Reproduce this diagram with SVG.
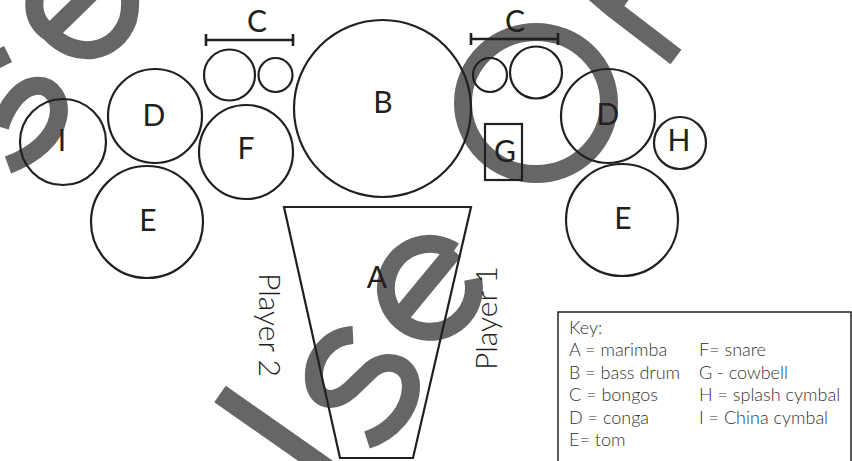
<svg xmlns="http://www.w3.org/2000/svg" width="852" height="461" viewBox="0 0 852 461">
<style>
.wm{fill:none;stroke:#666;stroke-width:18}
.ln{fill:none;stroke:#231f20;stroke-width:2.2}
.lbl{font-family:Lato,"Liberation Sans",sans-serif;font-weight:400;font-size:30px;fill:#231f20;text-anchor:middle}
.ply{font-family:Lato,"Liberation Sans",sans-serif;font-weight:300;font-size:30px;fill:#231f20}
.key{font-family:Lato,"Liberation Sans",sans-serif;font-weight:300;font-size:18px;fill:#333}
</style>
<rect width="852" height="461" fill="#fff"/>
<g id="watermark">
<path class="wm" d="M 50,33 L 92,-8 M 50,33 C 30,20 30,-5 45,-20 M 50,33 C 75,60 115,55 128,20 C 132,5 130,-10 125,-20"/>
<path class="wm" d="M 0,127 C 5,110 18,88 35,86 C 52,84 62,100 58,118 C 54,138 35,155 8,165"/>
<path class="wm" d="M -4,50 L 4,66"/>
<ellipse class="wm" cx="536" cy="103" rx="73" ry="71"/>
<path class="wm" d="M 676,57 L 612,8 L 585,-15 M 612,8 L 628,-15"/>
<path class="wm" d="M 454,251 A 44 44 0 1 0 473 279 M 454,251 L 402,314"/>
<path class="wm" d="M 353,335 C 330,336 312,356 314,380 C 316,402 334,404 350,390 L 372,369 C 390,356 411,365 411,386 C 411,410 392,432 367,440"/>
<path class="wm" d="M 220,394 L 340,478" style="stroke-width:20"/>
</g>
<g id="connectors"></g>
<g id="node-I"><circle class="ln" cx="63" cy="142" r="43"/><text class="lbl" x="62" y="151">I</text></g>
<g id="node-D-left"><circle class="ln" cx="155" cy="116" r="47"/><text class="lbl" x="154" y="126">D</text></g>
<g id="node-E-left"><circle class="ln" cx="147" cy="222" r="56"/><text class="lbl" x="148" y="231">E</text></g>
<g id="node-C-left">
<circle class="ln" cx="229.5" cy="75" r="25.5"/>
<circle class="ln" cx="275.5" cy="75" r="17"/>
<path class="ln" d="M 206,40 H 293 M 206,34 V 46 M 293,34 V 46" style="stroke-width:2.6"/>
<text class="lbl" x="257" y="32">C</text>
</g>
<g id="node-F"><circle class="ln" cx="246" cy="152" r="47"/><text class="lbl" x="246" y="159">F</text></g>
<g id="node-B"><circle class="ln" cx="382.5" cy="108.5" r="88.5"/><text class="lbl" x="383" y="113">B</text></g>
<g id="node-C-right">
<circle class="ln" cx="490" cy="75" r="17"/>
<circle class="ln" cx="536" cy="72.5" r="26"/>
<path class="ln" d="M 471,39 H 558 M 471,33 V 45 M 558,33 V 45" style="stroke-width:2.6"/>
<text class="lbl" x="515" y="32">C</text>
</g>
<g id="node-G"><rect class="ln" x="485" y="124" width="37" height="56"/><text class="lbl" x="505" y="162">G</text></g>
<g id="node-D-right"><circle class="ln" cx="608" cy="116" r="47"/><text class="lbl" x="608" y="125">D</text></g>
<g id="node-H"><circle class="ln" cx="680" cy="143" r="26"/><text class="lbl" x="679" y="151">H</text></g>
<g id="node-E-right"><circle class="ln" cx="622" cy="220" r="56"/><text class="lbl" x="623" y="229">E</text></g>
<g id="node-A"><path class="ln" d="M 284,207 L 471,207 L 413,458 L 340,458 Z"/><text class="lbl" x="377" y="288">A</text></g>
<g id="player2"><text class="ply" transform="translate(259,273) rotate(90)">Player 2</text></g>
<g id="player1"><text class="ply" transform="translate(497,370) rotate(-90)">Player 1</text></g>
<g id="key">
<rect x="558" y="312" width="293" height="170" fill="#fff" stroke="#231f20" stroke-width="1.5"/>
<text class="key" x="569" y="334">Key:</text>
<text class="key" x="569" y="356">A = marimba</text>
<text class="key" x="569" y="378.5">B = bass drum</text>
<text class="key" x="569" y="401">C = bongos</text>
<text class="key" x="569" y="424">D = conga</text>
<text class="key" x="569" y="446">E= tom</text>
<text class="key" x="699" y="356">F= snare</text>
<text class="key" x="699" y="378.5">G - cowbell</text>
<text class="key" x="699" y="401">H = splash cymbal</text>
<text class="key" x="699" y="424">I = China cymbal</text>
</g>
</svg>
